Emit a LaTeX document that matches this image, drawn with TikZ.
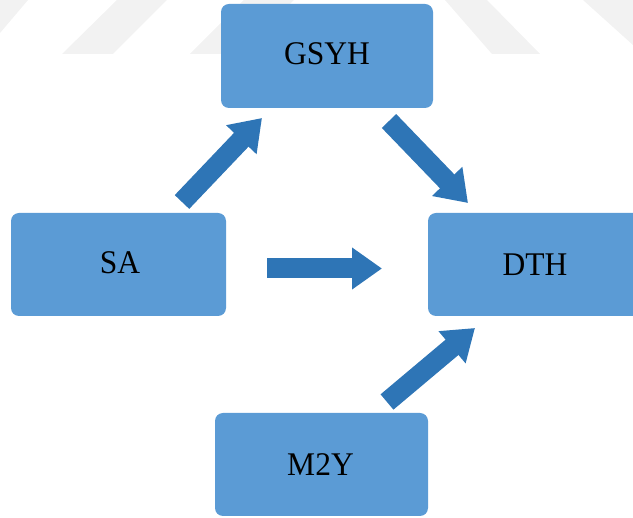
\documentclass[tikz,border=0pt]{standalone}
\usepackage{fontspec}
\setmainfont{Liberation Serif}
\usetikzlibrary{arrows.meta,calc}
\definecolor{boxblue}{HTML}{5B9BD5}
\definecolor{arrowblue}{HTML}{2E75B6}
\definecolor{wm}{HTML}{F2F2F2}
\newcommand{\boxtext}[1]{\scalebox{1}[1.05]{#1}}
\begin{document}
\begin{tikzpicture}[x=1pt,y=-1pt,
  box/.style={fill=boxblue, rounded corners=8pt, inner sep=0pt,
    font=\fontsize{31.5}{36}\selectfont},
  blockarrow/.style={draw=arrowblue, line width=20pt,
    -{Triangle[width=40pt,length=30pt]}}]
\useasboundingbox (0,0) rectangle (633,518);
\clip (0,0) rectangle (633,518);
% faint watermark bands
\fill[wm] (0,0) -- (28,0) -- (0,33) -- cycle;
\fill[wm] (117,0) -- (167,0) -- (113,54) -- (62,54) -- cycle;
\fill[wm] (244,0) -- (294,0) -- (240,54) -- (190,54) -- cycle;
\fill[wm] (445,0) -- (487,0) -- (540,54) -- (492,54) -- cycle;
\fill[wm] (583,0) -- (633,0) -- (633,45) -- cycle;
% boxes
\node[box, minimum width=212pt, minimum height=104pt] (GSYH) at (327,56) {};
\node[box, minimum width=215pt, minimum height=103pt] (SA) at (118.5,264.5) {};
\node[box, minimum width=214pt, minimum height=103pt] (DTH) at (535,264.5) {};
\node[box, minimum width=213pt, minimum height=103pt] (M2Y) at (321.5,464.5) {};
\node[font=\fontsize{31.5}{36}\selectfont, inner sep=0pt] (tGSYH) at ($(GSYH.center)+(0,-2)$) {\boxtext{GSYH}};
\node[font=\fontsize{31.5}{36}\selectfont, inner sep=0pt] (tSA) at ($(SA.center)+(1.5,-1.5)$) {\boxtext{SA}};
\node[font=\fontsize{31.5}{36}\selectfont, inner sep=0pt] (tDTH) at ($(DTH.center)+(0,0)$) {\boxtext{DTH}};
\node[font=\fontsize{31.5}{36}\selectfont, inner sep=0pt] (tM2Y) at ($(M2Y.center)+(-1,0)$) {\boxtext{M2Y}};
% arrow end points
\coordinate (a1s) at ($(SA.center)+(63.5,-62.5)$);
\coordinate (a1e) at ($(GSYH.center)+(-65,62)$);
\coordinate (a2s) at ($(GSYH.center)+(62,65)$);
\coordinate (a2e) at ($(DTH.center)+(-67,-61.5)$);
\coordinate (a3s) at ($(SA.center)+(148.5,4)$);
\coordinate (a3e) at ($(DTH.center)+(-153,4)$);
\coordinate (a4s) at ($(M2Y.center)+(65.5,-62.5)$);
\coordinate (a4e) at ($(DTH.center)+(-60,63.5)$);
% arrows
\draw[blockarrow] (a1s) -- (a1e);
\draw[blockarrow] (a2s) -- (a2e);
\draw[blockarrow] (a3s) -- (a3e);
\draw[blockarrow] (a4s) -- (a4e);
\end{tikzpicture}
\end{document}
